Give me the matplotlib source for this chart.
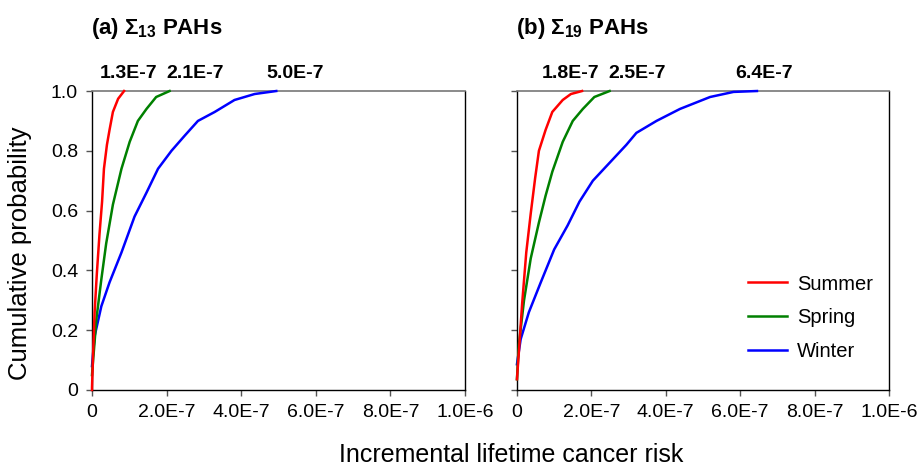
import matplotlib
matplotlib.use('Agg')
import matplotlib.pyplot as plt
import numpy as np

plt.rcParams['font.family'] = ['Liberation Sans', 'DejaVu Sans']
plt.rcParams['mathtext.fontset'] = 'custom'
plt.rcParams['mathtext.rm'] = 'Liberation Sans'
plt.rcParams['mathtext.bf'] = 'Liberation Sans:bold'

# 累积概率曲线 (从图上读出的点, 风险单位 1E-7)
# (a) Σ13 PAHs
sum13_x = [0.0, 0.0, 0.03, 0.07, 0.13, 0.20, 0.27, 0.32, 0.40, 0.47, 0.56, 0.70, 0.86]
sum13_p = [0.0, 0.008, 0.125, 0.26, 0.39, 0.52, 0.63, 0.74, 0.82, 0.87, 0.93, 0.974, 1.0]
spr13_x = [0.0, 0.03, 0.12, 0.25, 0.38, 0.56, 0.79, 1.01, 1.23, 1.46, 1.72, 2.08]
spr13_p = [0.05, 0.10, 0.24, 0.37, 0.49, 0.62, 0.74, 0.83, 0.90, 0.94, 0.98, 1.0]
win13_x = [0.0, 0.07, 0.25, 0.47, 0.79, 1.14, 1.46, 1.77, 2.13, 2.48, 2.84, 3.29, 3.82,
           4.36, 4.94]
win13_p = [0.08, 0.18, 0.28, 0.36, 0.46, 0.58, 0.66, 0.74, 0.80, 0.85, 0.90, 0.93, 0.97,
           0.99, 1.0]
# (b) Σ19 PAHs
sum19_x = [0.0, 0.05, 0.14, 0.25, 0.37, 0.49, 0.59, 0.77, 0.95, 1.23, 1.45, 1.75]
sum19_p = [0.036, 0.125, 0.29, 0.46, 0.59, 0.71, 0.80, 0.87, 0.93, 0.97, 0.99, 1.0]
spr19_x = [0.0, 0.05, 0.19, 0.37, 0.59, 0.77, 0.95, 1.23, 1.50, 1.77, 2.08, 2.49]
spr19_p = [0.036, 0.15, 0.30, 0.44, 0.56, 0.65, 0.73, 0.83, 0.90, 0.94, 0.98, 1.0]
win19_x = [0.0, 0.10, 0.32, 0.64, 1.00, 1.36, 1.68, 2.04, 2.49, 2.94, 3.21, 3.75, 4.38,
           5.19, 5.82, 6.45]
win19_p = [0.086, 0.17, 0.26, 0.36, 0.47, 0.55, 0.63, 0.70, 0.76, 0.82, 0.86, 0.90, 0.94,
           0.98, 0.997, 1.0]

titles = ['(a) Σ$_{\\mathbf{13}}$ PAHs', '(b) Σ$_{\\mathbf{19}}$ PAHs']
max_labels = [['1.3E-7', '2.1E-7', '5.0E-7'], ['1.8E-7', '2.5E-7', '6.4E-7']]
label_pos = [[0.97, 2.76, 5.44], [1.44, 3.24, 6.63]]

seasons = ['Summer', 'Spring', 'Winter']
colors = ['#ff0000', '#008000', '#0000ff']
xticks = [0, 2e-7, 4e-7, 6e-7, 8e-7, 1e-6]
xticklabels = ['0', '2.0E-7', '4.0E-7', '6.0E-7', '8.0E-7', '1.0E-6']
yticks = [0, 0.2, 0.4, 0.6, 0.8, 1.0]
yticklabels = ['0', '0.2', '0.4', '0.6', '0.8', '1.0']

data = [[(sum13_x, sum13_p), (spr13_x, spr13_p), (win13_x, win13_p)],
        [(sum19_x, sum19_p), (spr19_x, spr19_p), (win19_x, win19_p)]]

fig = plt.figure(figsize=(9.21, 4.67), dpi=100)
ax1 = fig.add_axes([0.0999, 0.1649, 0.405, 0.6402])
ax2 = fig.add_axes([0.5613, 0.1649, 0.404, 0.6402])

for k, ax in enumerate([ax1, ax2]):
    handles = []
    # 画图顺序: 冬 -> 春 -> 夏 (红线在最上面)
    for i in [2, 1, 0]:
        xs, ps = data[k][i]
        h, = ax.plot(np.array(xs) * 1e-7, ps, color=colors[i], lw=1.8,
                     label=seasons[i], zorder=3 + (2 - i), clip_on=False)
        handles.append(h)
    ax.set_xlim(0, 1e-6)
    ax.set_ylim(0, 1.0)
    ax.set_xticks(xticks)
    ax.set_xticklabels(xticklabels)
    ax.set_yticks(yticks)
    if k == 0:
        ax.set_yticklabels(yticklabels)
    else:
        ax.set_yticklabels([])
    ax.tick_params(axis='both', direction='out', length=4, width=1,
                   color='#555555', labelsize=14, pad=6)
    for s in ['left', 'right', 'bottom']:
        ax.spines[s].set_color('black')
        ax.spines[s].set_linewidth(1)
    ax.spines['top'].set_color('#777777')
    ax.spines['top'].set_linewidth(1.2)

    ax.text(-0.003, 1.21, titles[k], transform=ax.transAxes, ha='left',
            va='center', fontsize=16, fontweight='bold')
    for lab, xp in zip(max_labels[k], label_pos[k]):
        ax.text(xp * 1e-7, 1.06, lab, transform=ax.get_xaxis_transform(),
                ha='center', va='center', fontsize=14, fontweight='bold')

    if k == 1:
        ax.legend(handles[::-1], seasons, loc='center left',
                  bbox_to_anchor=(0.62, 0.241), frameon=False, fontsize=14.5,
                  handlelength=1.94, handletextpad=0.5, labelspacing=0.74,
                  borderpad=0, borderaxespad=0)

fig.text(20 / 921, 1 - 253 / 467, 'Cumulative probability', rotation=90,
         ha='center', va='center', fontsize=18.5)
fig.text(511 / 921, 1 - 455 / 467, 'Incremental lifetime cancer risk',
         ha='center', va='center', fontsize=18)

fig.savefig('out.png', dpi=100)
